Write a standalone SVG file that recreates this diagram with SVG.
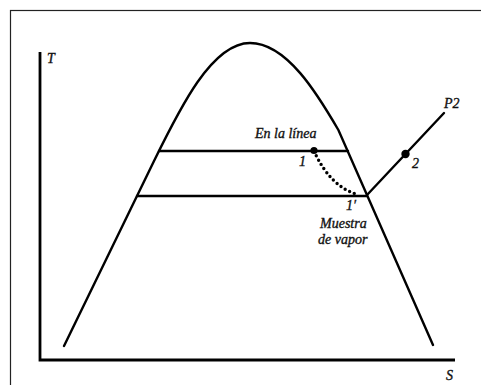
<svg xmlns="http://www.w3.org/2000/svg" width="481" height="385" viewBox="0 0 481 385">
<style>
.ln{fill:none;stroke:#000;stroke-width:2.4;stroke-linecap:round}
.ax{fill:none;stroke:#000;stroke-width:2.8}
.t{font-family:"Liberation Serif","Times New Roman",serif;font-style:italic;font-size:14px;fill:#111;stroke:#111;stroke-width:0.35}
</style>
<rect x="0" y="0" width="481" height="385" fill="#fff"/>
<rect x="10.5" y="10.5" width="520" height="420" fill="none" stroke="#222" stroke-width="1.2"/>
<g id="axes">
<path class="ax" d="M40,52 V360 H455"/>
<text class="t" x="47" y="63">T</text>
<text class="t" x="446" y="380">S</text>
</g>
<g id="dome">
<path class="ln" d="M64,346 L154.5,160 C180,108 212,43 250,43 C287,43 318,95 338.4,130 L433,345"/>
</g>
<g id="connectors">
<path class="ln" d="M159,151 H348"/>
<path class="ln" d="M137,196 H367"/>
<path class="ln" d="M367,195 L444,113"/>
<path d="M314,151 Q330,186 356,194" fill="none" stroke="#000" stroke-width="3.4" stroke-linecap="round" stroke-dasharray="0 5"/>
</g>
<g id="point1">
<circle cx="314" cy="150.5" r="3.6" fill="#000"/>
<text class="t" x="299" y="166">1</text>
<text class="t" x="255" y="138">En la línea</text>
</g>
<g id="point1p">
<text class="t" x="346" y="210">1′</text>
<text class="t" x="320" y="228">Muestra</text>
<text class="t" x="318" y="244">de vapor</text>
</g>
<g id="point2">
<circle cx="405.5" cy="154" r="4.2" fill="#000"/>
<text class="t" x="412" y="168">2</text>
<text class="t" x="444" y="108">P2</text>
</g>
</svg>
